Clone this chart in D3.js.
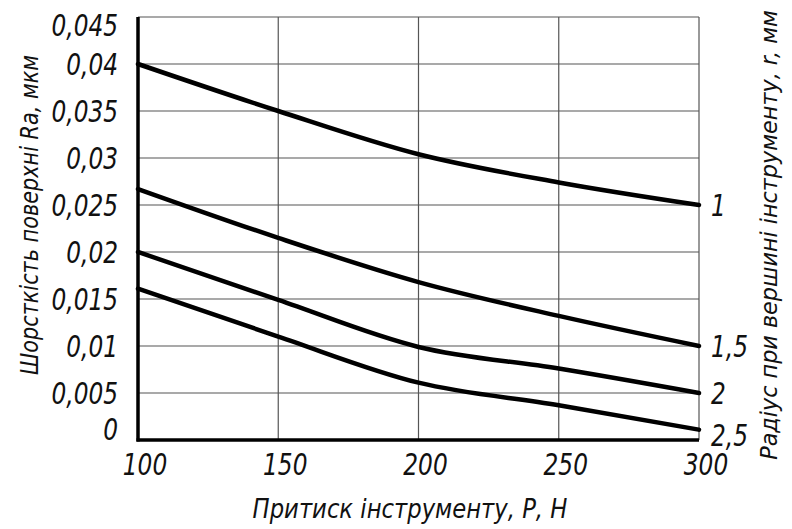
<!DOCTYPE html>
<html>
<head>
<meta charset="utf-8">
<script src="https://cdn.jsdelivr.net/npm/d3@7"></script>
<style>
  body { margin: 0; background: #fff; }
  text { font-family: "DejaVu Sans", sans-serif; font-weight: 200; font-style: italic; fill: #111; }
</style>
</head>
<body>
<script>
// pressure of the tool, P (N)
const pressure = [100, 150, 200, 250, 300];
// roughness Ra for each tip radius r
const radii = ["1", "1,5", "2", "2,5"];
const ra_r1 = [0.040, 0.035, 0.0304, 0.0274, 0.025];
const ra_r15 = [0.0267, 0.0215, 0.0168, 0.0132, 0.010];
const ra_r2 = [0.020, 0.0149, 0.0099, 0.0076, 0.005];
const ra_r25 = [0.0161, 0.0110, 0.0061, 0.0037, 0.0011];

const xTicks = [100, 150, 200, 250, 300];
const yTicks = [0, 0.005, 0.01, 0.015, 0.02, 0.025, 0.03, 0.035, 0.04, 0.045];
const yTickLabels = ["0", "0,005", "0,01", "0,015", "0,02", "0,025", "0,03", "0,035", "0,04", "0,045"];

// narrow drafting look: squeeze the glyphs horizontally
const SX = 0.75;

function drawGrid(svg, x, y) {
  // thin grid lines, top and right edges come from the last ticks
  svg.append("g")
    .selectAll("line")
    .data(xTicks.slice(1))
    .enter().append("line")
    .attr("x1", d => x(d)).attr("x2", d => x(d))
    .attr("y1", y(0)).attr("y2", y(0.045))
    .attr("stroke", "#555").attr("stroke-width", 1.2);

  svg.append("g")
    .selectAll("line")
    .data(yTicks.slice(1))
    .enter().append("line")
    .attr("x1", x(100)).attr("x2", x(300))
    .attr("y1", d => y(d)).attr("y2", d => y(d))
    .attr("stroke", "#555").attr("stroke-width", 1.2);
}

function drawAxes(svg, x, y) {
  // thick left and bottom axes
  svg.append("line")
    .attr("x1", x(100)).attr("x2", x(100))
    .attr("y1", y(0.045)).attr("y2", y(0) + 1.5)
    .attr("stroke", "#000").attr("stroke-width", 3.5);
  svg.append("line")
    .attr("x1", x(100) - 1.5).attr("x2", x(300))
    .attr("y1", y(0)).attr("y2", y(0))
    .attr("stroke", "#000").attr("stroke-width", 3.5);

  svg.append("g")
    .selectAll("text")
    .data(yTicks)
    .enter().append("text")
    .attr("transform", d => "translate(118," + Math.min(Math.max(y(d), 25), 429) + ") scale(" + SX + ",1)")
    .attr("dy", "0.36em")
    .attr("text-anchor", "end")
    .style("font-size", "31px")
    .text((d, i) => yTickLabels[i]);

  svg.append("g")
    .selectAll("text")
    .data(xTicks)
    .enter().append("text")
    .attr("transform", d => "translate(" + (x(d) + 7) + ",475) scale(" + SX + ",1)")
    .attr("text-anchor", "middle")
    .style("font-size", "31px")
    .text(d => d);
}

function title(svg, txt, size, len, pos) {
  // squeeze the title to the wanted length with a transform
  var t = svg.append("text")
    .attr("text-anchor", "middle")
    .style("font-size", size + "px")
    .text(txt);
  var k = len / t.node().getComputedTextLength();
  t.attr("transform", pos + " scale(" + k + ",1)");
}

function drawTitles(svg) {
  title(svg, "Притиск інструменту, Р, Н", 26, 315, "translate(410,518)");
  title(svg, "Шорсткість поверхні Ra, мкм", 25, 320, "translate(38,215) rotate(-90)");
  title(svg, "Радіус при вершині інструменту, r, мм", 23, 450, "translate(777,235) rotate(-90)");
}

function drawLines(svg, x, y) {
  const series = [ra_r1, ra_r15, ra_r2, ra_r25];
  const line = d3.line()
    .x((d, i) => x(pressure[i]))
    .y(d => y(d))
    .curve(d3.curveMonotoneX);

  svg.append("g")
    .selectAll("path")
    .data(series)
    .enter().append("path")
    .attr("d", line)
    .attr("fill", "none")
    .attr("stroke", "#000")
    .attr("stroke-width", 4.5)
    .attr("stroke-linecap", "round");

  // radius labels at the right end of each curve
  const dy = [0, 0, 0, 5];
  svg.append("g")
    .selectAll("text")
    .data(series)
    .enter().append("text")
    .attr("transform", (d, i) => "translate(" + (x(300) + 12) + "," + (y(d[d.length - 1]) + dy[i]) + ") scale(" + SX + ",1)")
    .attr("dy", "0.36em")
    .style("font-size", "31px")
    .text((d, i) => radii[i]);
}

function main() {
  const svg = d3.select("body").append("svg")
    .attr("width", 792)
    .attr("height", 529)
    .attr("style", "background: #fff");

  const x = d3.scaleLinear().domain([100, 300]).range([138, 699]);
  const y = d3.scaleLinear().domain([0, 0.045]).range([440, 17]);

  drawGrid(svg, x, y);
  drawAxes(svg, x, y);
  drawLines(svg, x, y);
  drawTitles(svg);
}

main();
</script>
</body>
</html>
